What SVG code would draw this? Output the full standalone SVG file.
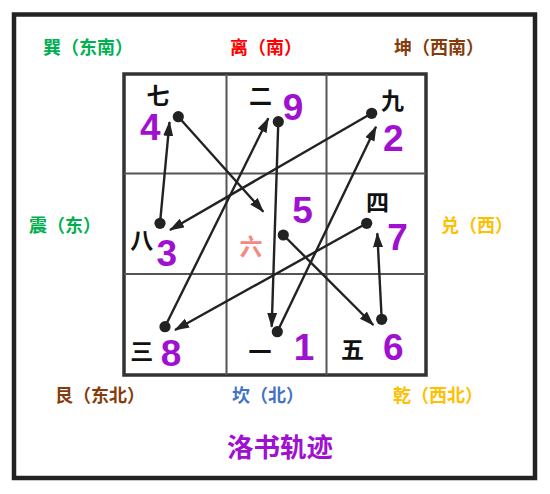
<svg xmlns="http://www.w3.org/2000/svg" width="550" height="494" viewBox="0 0 550 494">
<defs>
<style>
.dir{font-family:"Noto Sans CJK SC","Noto Sans",sans-serif;font-size:18px;font-weight:bold}
.num{font-family:"Liberation Sans",Arial,sans-serif;font-size:37px;font-weight:bold;fill:#a010d0;text-anchor:middle}
.cn{font-family:"Noto Sans CJK SC",sans-serif;font-size:23px;font-weight:bold;fill:#111;text-anchor:middle}
.dot{fill:#222}
.arr{stroke:#222;stroke-width:2.4;fill:none;marker-end:url(#ah)}
.grid{stroke:#555;stroke-width:2;fill:none}
</style>
<marker id="ah" markerUnits="userSpaceOnUse" markerWidth="15" markerHeight="11" refX="14" refY="5" orient="auto">
<path d="M0,0 L15,5 L0,10 z" fill="#222"/>
</marker>
</defs>
<rect x="0" y="0" width="550" height="494" fill="#fff"/>
<rect id="frame" x="14" y="14.5" width="521" height="463.5" fill="#fff" stroke="#222" stroke-width="4.5"/>
<g id="directions">
<text class="dir" x="43" y="54" fill="#00b050">巽（东南）</text>
<text class="dir" x="230" y="54" fill="#ff0000">离（南）</text>
<text class="dir" x="394" y="54" fill="#843c0c">坤（西南）</text>
<text class="dir" x="29" y="232" fill="#00b050">震（东）</text>
<text class="dir" x="441" y="232" fill="#ffc000">兑（西）</text>
<text class="dir" x="55" y="402" fill="#843c0c">艮（东北）</text>
<text class="dir" x="232" y="402" fill="#4472c4">坎（北）</text>
<text class="dir" x="393" y="402" fill="#ffc000">乾（西北）</text>
</g>
<g id="grid">
<rect x="124" y="74" width="302" height="301" fill="none" stroke="#333" stroke-width="3.5"/>
<line class="grid" x1="226.5" y1="74" x2="226.5" y2="375"/>
<line class="grid" x1="326.5" y1="74" x2="326.5" y2="375"/>
<line class="grid" x1="124" y1="173.5" x2="426" y2="173.5"/>
<line class="grid" x1="124" y1="274" x2="426" y2="274"/>
</g>
<g id="connectors">
<line class="arr" x1="277.3" y1="331.7" x2="376" y2="126.7"/>
<line class="arr" x1="371.7" y1="113.3" x2="170" y2="230"/>
<line class="arr" x1="160" y1="223.3" x2="169.5" y2="122"/>
<line class="arr" x1="178.3" y1="116.7" x2="263.3" y2="211.7"/>
<line class="arr" x1="283.3" y1="235" x2="373.3" y2="325"/>
<line class="arr" x1="381.7" y1="319.3" x2="377.3" y2="233.3"/>
<line class="arr" x1="366.7" y1="223.3" x2="175" y2="330"/>
<line class="arr" x1="165" y1="326.7" x2="268.3" y2="118.3"/>
<line class="arr" x1="278.3" y1="121.7" x2="271.7" y2="326.7"/>
</g>
<g id="cell-4">
<text class="cn" x="158" y="104">七</text>
<text class="num" x="150.3" y="140">4</text>
<circle class="dot" cx="178.3" cy="116.7" r="5.6"/>
</g>
<g id="cell-9">
<text class="cn" x="260.5" y="104">二</text>
<text class="num" x="293" y="120">9</text>
<circle class="dot" cx="278.3" cy="121.7" r="5.6"/>
</g>
<g id="cell-2">
<text class="cn" x="392.5" y="109">九</text>
<text class="num" x="393.3" y="151">2</text>
<circle class="dot" cx="371.7" cy="113.3" r="5.6"/>
</g>
<g id="cell-3">
<text class="cn" x="141.7" y="249">八</text>
<text class="num" x="166.7" y="266">3</text>
<circle class="dot" cx="160" cy="223.3" r="5.6"/>
</g>
<g id="cell-5">
<text class="cn" x="251" y="255" style="fill:#f8877f">六</text>
<text class="num" x="302.5" y="223">5</text>
<circle class="dot" cx="283.3" cy="235" r="5.6"/>
</g>
<g id="cell-7">
<text class="cn" x="377.5" y="211">四</text>
<text class="num" x="397.5" y="250">7</text>
<circle class="dot" cx="366.7" cy="223.3" r="5.6"/>
</g>
<g id="cell-8">
<text class="cn" x="141.7" y="360">三</text>
<text class="num" x="171" y="366">8</text>
<circle class="dot" cx="165" cy="326.7" r="5.6"/>
</g>
<g id="cell-1">
<text class="cn" x="260" y="360">一</text>
<text class="num" x="304" y="360">1</text>
<circle class="dot" cx="277.3" cy="331.7" r="5.6"/>
</g>
<g id="cell-6">
<text class="cn" x="352.5" y="358">五</text>
<text class="num" x="393.3" y="360">6</text>
<circle class="dot" cx="381.7" cy="319.3" r="5.6"/>
</g>
<g id="title">
<text x="227" y="457" style="font-family:'Noto Sans CJK SC',sans-serif;font-size:26.5px;font-weight:bold;fill:#a010d0">洛书轨迹</text>
</g>
</svg>
